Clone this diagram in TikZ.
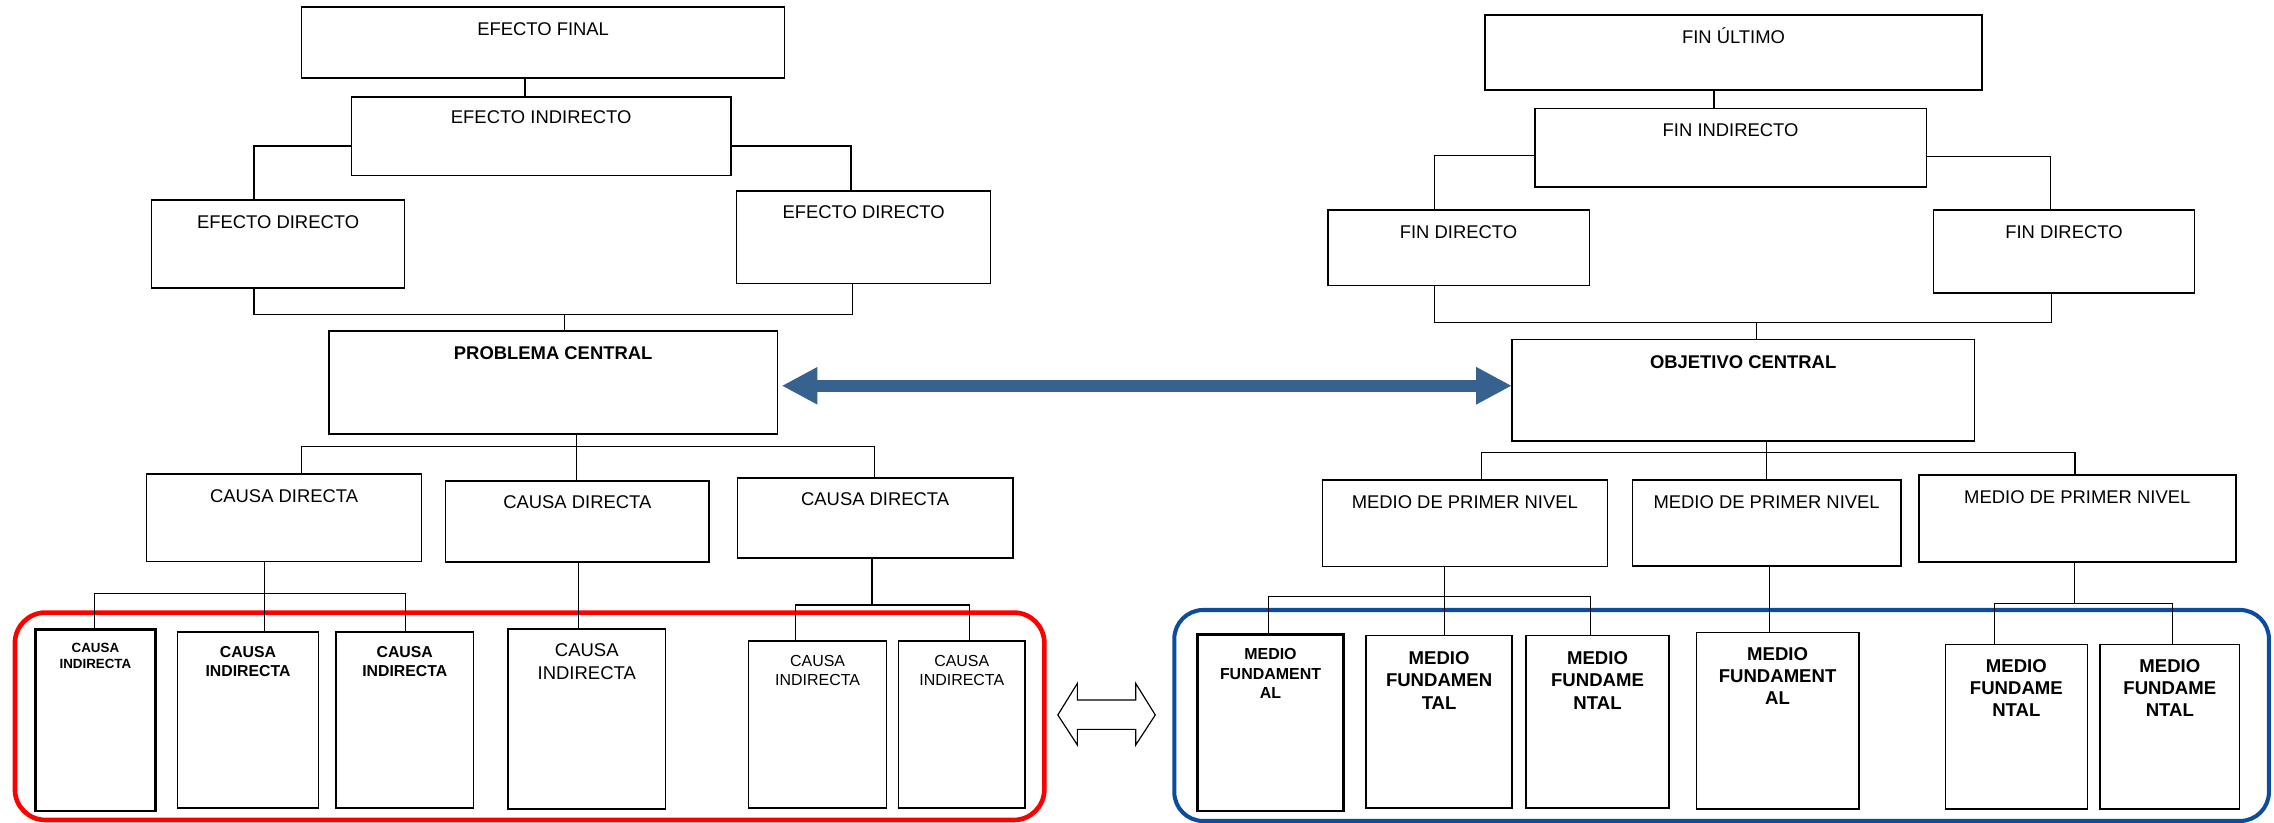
\documentclass[tikz,border=0pt]{standalone}
\usepackage{fontspec}
\setmainfont{Liberation Sans}
\usetikzlibrary{arrows.meta,calc}
\definecolor{arrowblue}{RGB}{55,97,143}
\definecolor{grpblue}{RGB}{12,76,156}
\newcommand{\mkbox}[6][]{%
  \node[box,#1,minimum width={#5-#3},minimum height={#6-#4}] (#2) at ({(#3+#5)/2},{(#4+#6)/2}) {};}
\tikzset{
  box/.style={draw,line width=1.1pt,inner sep=0pt,outer sep=0pt},
  thickbox/.style={line width=2pt},
  conn/.style={line width=0.9pt},
  lbl/.style={inner sep=0pt,align=center,anchor=north,font=\fontsize{12.7}{15.3}\selectfont},
  lblb/.style={lbl,font=\fontsize{12.7}{15.3}\selectfont\bfseries},
  redgrp/.style={draw=red,line width=3.2pt,rounded corners=21pt},
  bluegrp/.style={draw=grpblue,line width=2.8pt,rounded corners=20pt},
  bigarrow/.style={draw=arrowblue,line width=8pt,{Triangle[length=24.6pt,width=24pt]}-{Triangle[length=24.6pt,width=24pt]}}
}
\begin{document}
\begin{tikzpicture}[x=1pt,y=-1pt]
\useasboundingbox[fill=white] (0,0) rectangle (1568,567);
% ---------- boxes ----------
\mkbox{ef}{208}{5}{541}{53.6}
\mkbox{ei}{242.3}{66.7}{504}{121.1}
\mkbox{ed1}{104.5}{137.9}{279}{198.4}
\mkbox{ed2}{507.9}{131.5}{683}{195.6}
\mkbox{pc}{226.9}{228.2}{536}{299.2}
\mkbox{fu}{1023.8}{10.3}{1366.8}{62}
\mkbox{fi}{1058.3}{74.7}{1328.3}{128.9}
\mkbox{fd1}{915.5}{144.8}{1095.9}{197}
\mkbox{fd2}{1333.2}{144.6}{1513.1}{202}
\mkbox{oc}{1042.5}{234.2}{1361.4}{303.9}
\mkbox{cd1}{101.1}{326.8}{290.7}{387.3}
\mkbox{cd2}{307.2}{331.7}{489}{387.5}
\mkbox{cd3}{508.4}{329.4}{698.5}{384.8}
\mkbox{mp1}{911.8}{331}{1108.3}{390.7}
\mkbox{mp2}{1125.6}{331}{1310.7}{390.2}
\mkbox{mp3}{1323.1}{327.5}{1541.6}{387.7}
\mkbox[thickbox]{ci1}{24.2}{433.9}{107.4}{559.2}
\mkbox{ci2}{122.4}{435.8}{219.6}{557.3}
\mkbox{ci3}{231.7}{435.8}{326.5}{557.3}
\mkbox{ci4}{350.2}{433.9}{459}{557.8}
\mkbox{ci5}{516.1}{442}{611.4}{557.3}
\mkbox{ci6}{619.6}{442}{706.7}{557.3}
\mkbox[thickbox]{mf1}{825.7}{437.2}{926.4}{559.2}
\mkbox{mf2}{942}{438.3}{1042.6}{557.3}
\mkbox{mf3}{1052.3}{438.3}{1150.8}{557.3}
\mkbox{mf4}{1169.7}{436}{1281.7}{557.8}
\mkbox{mf5}{1341.4}{444.3}{1439.3}{557.8}
\mkbox{mf6}{1448}{444.3}{1544.3}{557.8}
% ---------- group frames ----------
\mkbox[redgrp]{gL}{10.3}{422.4}{720.1}{565.4}
\mkbox[bluegrp]{gR}{809.7}{420.6}{1564.5}{566.1}
% ---------- labels ----------
\node[lbl] (efT) at ($(ef.north)+(0,10.7)$) {EFECTO FINAL};
\node[lbl] (eiT) at ($(ei.north)+(0,9.7)$) {EFECTO INDIRECTO};
\node[lbl] (ed1T) at ($(ed1.north)+(0,10.5)$) {EFECTO DIRECTO};
\node[lbl] (ed2T) at ($(ed2.north)+(0,10.4)$) {EFECTO DIRECTO};
\node[lblb] (pcT) at ($(pc.north)+(0,10.5)$) {PROBLEMA CENTRAL};
\node[lbl,anchor=base] (fuT) at ($(fu.north)+(0,19.55)$) {FIN ÚLTIMO};
\node[lbl] (fiT) at ($(fi.north)+(0,10.4)$) {FIN INDIRECTO};
\node[lbl] (fd1T) at ($(fd1.north)+(0,10.4)$) {FIN DIRECTO};
\node[lbl] (fd2T) at ($(fd2.north)+(0,10.6)$) {FIN DIRECTO};
\node[lblb] (ocT) at ($(oc.north)+(0,10.7)$) {OBJETIVO CENTRAL};
\node[lbl] (cd1T) at ($(cd1.north)+(0,10.5)$) {CAUSA DIRECTA};
\node[lbl] (cd2T) at ($(cd2.north)+(0,10.2)$) {CAUSA DIRECTA};
\node[lbl] (cd3T) at ($(cd3.north)+(0,10.4)$) {CAUSA DIRECTA};
\node[lbl] (mp1T) at ($(mp1.north)+(0,10.4)$) {MEDIO DE PRIMER NIVEL};
\node[lbl] (mp2T) at ($(mp2.north)+(0,10.4)$) {MEDIO DE PRIMER NIVEL};
\node[lbl] (mp3T) at ($(mp3.north)+(0,10.5)$) {MEDIO DE PRIMER NIVEL};
\node[lbl,font=\fontsize{9.2}{11.1}\selectfont\bfseries] (ci1T) at ($(ci1.north)+(0,9.1)$) {CAUSA\\INDIRECTA};
\node[lbl,font=\fontsize{10.9}{13.4}\selectfont\bfseries] (ci2T) at ($(ci2.north)+(0,9.6)$) {CAUSA\\INDIRECTA};
\node[lbl,font=\fontsize{10.9}{13.4}\selectfont\bfseries] (ci3T) at ($(ci3.north)+(0,9.6)$) {CAUSA\\INDIRECTA};
\node[lbl,font=\fontsize{12.75}{16.1}\selectfont] (ci4T) at ($(ci4.north)+(0,9.7)$) {CAUSA\\INDIRECTA};
\node[lbl,font=\fontsize{11}{13.1}\selectfont] (ci5T) at ($(ci5.north)+(0,9.9)$) {CAUSA\\INDIRECTA};
\node[lbl,font=\fontsize{11}{13.1}\selectfont] (ci6T) at ($(ci6.north)+(0,9.9)$) {CAUSA\\INDIRECTA};
\node[lbl,font=\fontsize{11}{13.3}\selectfont\bfseries] (mf1T) at ($(mf1.north)+(0,9.9)$) {MEDIO\\FUNDAMENT\\AL};
\node[lbl,font=\fontsize{12.8}{15.5}\selectfont\bfseries] (mf2T) at ($(mf2.north)+(0,10.6)$) {MEDIO\\FUNDAMEN\\TAL};
\node[lbl,font=\fontsize{12.8}{15.5}\selectfont\bfseries] (mf3T) at ($(mf3.north)+(0,10.6)$) {MEDIO\\FUNDAME\\NTAL};
\node[lbl,font=\fontsize{12.8}{15.2}\selectfont\bfseries] (mf4T) at ($(mf4.north)+(0,10.4)$) {MEDIO\\FUNDAMENT\\AL};
\node[lbl,font=\fontsize{12.8}{15.3}\selectfont\bfseries] (mf5T) at ($(mf5.north)+(0,10.1)$) {MEDIO\\FUNDAME\\NTAL};
\node[lbl,font=\fontsize{12.8}{15.3}\selectfont\bfseries] (mf6T) at ($(mf6.north)+(0,10.1)$) {MEDIO\\FUNDAME\\NTAL};
% ---------- connectors: left tree ----------
\coordinate (jA) at (362,0);
\draw[conn] (jA |- ef.south) -- (jA |- ei.north);
\coordinate (jB) at (175.1,100.7);
\draw[conn] (jB -| ei.west) -- (jB) -- (jB |- ed1.north);
\coordinate (jC) at (586.7,100.7);
\draw[conn] (jC -| ei.east) -- (jC) -- (jC |- ed2.north);
\coordinate (jD) at (175.1,216.7);
\coordinate (jE) at (587.7,216.7);
\coordinate (jF) at (389.4,216.7);
\draw[conn] (jD |- ed1.south) -- (jD) -- (jE) -- (jE |- ed2.south);
\draw[conn] (jF) -- (jF |- pc.north);
\coordinate (jG) at (397.6,308);
\coordinate (jH) at (208,308);
\coordinate (jI) at (603.2,308);
\draw[conn] (jG |- pc.south) -- (jG |- cd2.north);
\draw[conn] (jH |- cd1.north) -- (jH) -- (jI) -- (jI |- cd3.north);
\coordinate (jJ) at (182.4,409.1);
\coordinate (jK) at (65.3,409.1);
\coordinate (jL) at (279.6,409.1);
\draw[conn] (jJ |- cd1.south) -- (jJ |- ci2.north);
\draw[conn] (jK |- ci1.north) -- (jK) -- (jL) -- (jL |- ci3.north);
\coordinate (jM) at (399,0);
\draw[conn] (jM |- cd2.south) -- (jM |- ci4.north);
\coordinate (jN) at (601.2,417.2);
\coordinate (jO) at (548.5,417.2);
\coordinate (jP) at (668.5,417.2);
\draw[conn] (jN |- cd3.south) -- (jN);
\draw[conn] (jO |- ci5.north) -- (jO) -- (jP) -- (jP |- ci6.north);
% ---------- connectors: right tree ----------
\coordinate (kA) at (1181.9,0);
\draw[conn] (kA |- fu.south) -- (kA |- fi.north);
\coordinate (kB) at (989.2,107.1);
\draw[conn] (kB -| fi.west) -- (kB) -- (kB |- fd1.north);
\coordinate (kC) at (1413.8,108);
\draw[conn] (kC -| fi.east) -- (kC) -- (kC |- fd2.north);
\coordinate (kD) at (989.2,222.5);
\coordinate (kE) at (1414.7,222.5);
\coordinate (kF) at (1211.1,222.5);
\draw[conn] (kD |- fd1.south) -- (kD) -- (kE) -- (kE |- fd2.south);
\draw[conn] (kF) -- (kF |- oc.north);
\coordinate (kG) at (1218.1,312.1);
\coordinate (kH) at (1021.6,312.1);
\coordinate (kI) at (1430.7,312.1);
\draw[conn] (kG |- oc.south) -- (kG |- mp2.north);
\draw[conn] (kH |- mp1.north) -- (kH) -- (kI) -- (kI |- mp3.north);
\coordinate (kJ) at (995.8,411.4);
\coordinate (kK) at (874.7,411.4);
\coordinate (kL) at (1096.5,411.4);
\draw[conn] (kJ |- mp1.south) -- (kJ |- mf2.north);
\draw[conn] (kK |- mf1.north) -- (kK) -- (kL) -- (kL |- mf3.north);
\coordinate (kM) at (1220.2,0);
\draw[conn] (kM |- mp2.south) -- (kM |- mf4.north);
\coordinate (kN) at (1430.2,416);
\coordinate (kO) at (1375.3,416);
\coordinate (kP) at (1498.1,416);
\draw[conn] (kN |- mp3.south) -- (kN);
\draw[conn] (kO |- mf5.north) -- (kO) -- (kP) -- (kP |- mf6.north);
% ---------- big double arrow ----------
\coordinate (ay) at (0,266);
\draw[bigarrow] ($(pc.east |- ay)+(3,0)$) -- (oc.west |- ay);
% ---------- hollow double arrow ----------
\draw[line width=0.8pt] (729.4,493) -- (742.9,471.2) -- (742.9,482.7) -- (783.1,482.7)
  -- (783.1,471.2) -- (796.6,493) -- (783.1,513.7) -- (783.1,502.9)
  -- (742.9,502.9) -- (742.9,513.7) -- cycle;
\end{tikzpicture}
\end{document}
